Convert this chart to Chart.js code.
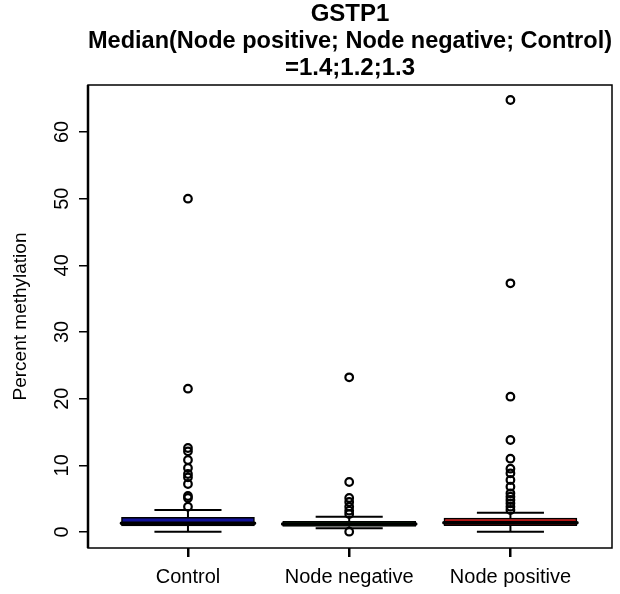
<!DOCTYPE html>
<html>
<head>
<meta charset="utf-8">
<script src="https://cdn.jsdelivr.net/npm/chart.js@4.4.1/dist/chart.umd.min.js"></script>
<style>
  html, body { margin: 0; padding: 0; background: #fff; }
  #wrap { width: 620px; height: 594px; }
</style>
</head>
<body>
<div id="wrap"><canvas id="boxChart" width="620" height="594"></canvas></div>
<script>
// Groups and box statistics (percent methylation)
const categories = ['Control', 'Node negative', 'Node positive'];
const whiskerLow = [0.05, 0.55, 0.05];
const q1 = [0.9, 0.85, 0.95];
const median = [1.3, 1.2, 1.4];
const q3 = [2.2, 1.6, 2.1];
const whiskerHigh = [3.3, 2.3, 2.9];
const boxColors = ['#12129a', '#1b8a1b', '#b31212'];

// Outliers per group
const outliersControl = [50.0, 21.5, 12.6, 12.1, 10.8, 9.6, 8.7, 8.2, 7.2, 5.4, 5.1, 3.8];
const outliersNegative = [23.2, 7.5, 5.1, 4.5, 3.8, 3.2, 2.7, 0.05];
const outliersPositive = [64.8, 37.3, 20.3, 13.8, 11.0, 9.5, 8.8, 7.8, 6.8, 5.8, 5.3, 4.8, 4.3, 3.8, 3.3];

const yTicks = [0, 10, 20, 30, 40, 50, 60];
const titleLines = ['GSTP1', 'Median(Node positive; Node negative; Control)', '=1.4;1.2;1.3'];

const BOX_HALF = 0.413;   // half box width, in group units
const CAP_HALF = 0.208;   // half whisker cap width
const FONT = "'Liberation Sans', Arial, sans-serif";

// Build line-segment datasets (null y breaks the line)
const stems = [];
const caps = [];
const meds = [];
categories.forEach((c, i) => {
    const x = i + 1;
    stems.push({x: x, y: whiskerLow[i]}, {x: x, y: q1[i]}, {x: x, y: null},
               {x: x, y: q3[i]}, {x: x, y: whiskerHigh[i]}, {x: x, y: null});
    caps.push({x: x - CAP_HALF, y: whiskerLow[i]}, {x: x + CAP_HALF, y: whiskerLow[i]}, {x: x, y: null},
              {x: x - CAP_HALF, y: whiskerHigh[i]}, {x: x + CAP_HALF, y: whiskerHigh[i]}, {x: x, y: null});
    meds.push({x: x - BOX_HALF, y: median[i]}, {x: x + BOX_HALF, y: median[i]}, {x: x, y: null});
});

const outlierPoints = [];
[outliersControl, outliersNegative, outliersPositive].forEach((list, i) => {
    list.forEach(v => outlierPoints.push({x: i + 1, y: v}));
});

// Frame, thick left axis line and rotated y tick labels (R style)
const framePlugin = {
    id: 'frame',
    afterDraw(chart) {
        const ctx = chart.ctx;
        const a = chart.chartArea;
        const y = chart.scales.y;
        ctx.save();
        ctx.strokeStyle = '#000';
        ctx.lineWidth = 1.5;
        ctx.strokeRect(a.left, a.top, a.right - a.left, a.bottom - a.top);
        ctx.lineWidth = 2.5;
        ctx.beginPath();
        ctx.moveTo(a.left, a.top);
        ctx.lineTo(a.left, a.bottom);
        ctx.stroke();

        ctx.fillStyle = '#000';
        ctx.font = '20px ' + FONT;
        ctx.textAlign = 'center';
        ctx.textBaseline = 'middle';
        yTicks.forEach(v => {
            ctx.save();
            ctx.translate(62, y.getPixelForValue(v));
            ctx.rotate(-Math.PI / 2);
            ctx.fillText(String(v), 0, 0);
            ctx.restore();
        });
        ctx.restore();
    }
};

const ctx = document.getElementById('boxChart').getContext('2d');
new Chart(ctx, {
    type: 'bar',
    data: {
        datasets: [
            {
                type: 'scatter',
                data: outlierPoints,
                pointStyle: 'circle',
                pointRadius: 3.8,
                pointBorderWidth: 2.2,
                pointBorderColor: '#000',
                pointBackgroundColor: 'rgba(255,255,255,0)',
                order: 0
            },
            {
                type: 'line',
                data: meds,
                borderColor: '#000',
                borderWidth: 3.5,
                pointRadius: 0,
                borderCapStyle: 'round',
                order: 1
            },
            {
                type: 'line',
                data: caps,
                borderColor: '#000',
                borderWidth: 2,
                pointRadius: 0,
                order: 2
            },
            {
                type: 'line',
                data: stems,
                borderColor: '#000',
                borderWidth: 2,
                pointRadius: 0,
                order: 2
            },
            {
                type: 'bar',
                data: categories.map((c, i) => ({x: i + 1, y: [q1[i], q3[i]]})),
                backgroundColor: boxColors,
                borderColor: '#000',
                borderWidth: 1.5,
                borderSkipped: false,
                barThickness: 133,
                order: 3
            }
        ]
    },
    options: {
        responsive: false,
        animation: false,
        layout: { padding: { top: 0, right: 8, left: 0, bottom: 0 } },
        plugins: {
            legend: { display: false },
            tooltip: { enabled: false },
            title: {
                display: true,
                fullSize: false,
                text: titleLines,
                color: '#000',
                font: { size: 24, weight: 'bold', family: FONT, lineHeight: 1.125 },
                padding: { top: 1, bottom: 3 }
            }
        },
        scales: {
            x: {
                type: 'linear',
                min: 0.38,
                max: 3.63,
                offset: false,
                afterBuildTicks: (scale) => { scale.ticks = categories.map((c, i) => ({value: i + 1})); },
                afterFit: (scale) => { scale.height = 46; },
                ticks: {
                    color: '#000',
                    font: { size: 20, family: FONT },
                    padding: 8,
                    maxRotation: 0,
                    autoSkip: false,
                    callback: (v) => categories[v - 1]
                },
                grid: { offset: false, drawOnChartArea: false, drawTicks: true, tickLength: 9, color: '#000', lineWidth: 2.5 },
                border: { display: false }
            },
            y: {
                type: 'linear',
                min: -2.4,
                max: 67.05,
                afterBuildTicks: (scale) => { scale.ticks = yTicks.map(v => ({value: v})); },
                afterFit: (scale) => { scale.width = 88; },
                ticks: { display: false },
                grid: { drawOnChartArea: false, drawTicks: true, tickLength: 9, color: '#000', lineWidth: 1.5 },
                border: { display: false },
                title: {
                    display: true,
                    text: 'Percent methylation',
                    color: '#000',
                    font: { size: 19, family: FONT },
                    padding: { top: 9, bottom: 0 }
                }
            }
        }
    },
    plugins: [framePlugin]
});
</script>
</body>
</html>
